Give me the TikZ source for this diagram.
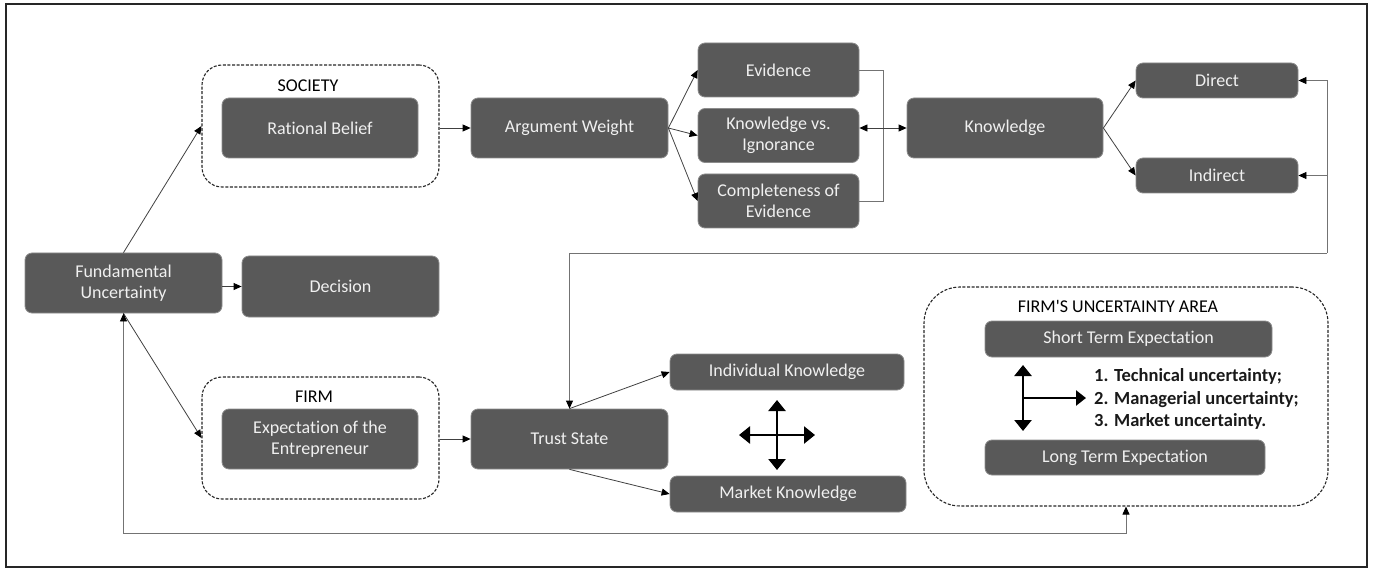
\documentclass[tikz,border=0pt]{standalone}
\usepackage{fontspec}
\setmainfont{Carlito}[Ligatures={NoCommon}]
\usetikzlibrary{arrows.meta,positioning}

\begin{document}
\begin{tikzpicture}[x=1pt,y=-1pt,
box/.style={rectangle, rounded corners=7pt, draw=black!45, line width=0.8pt, fill=black!65, text=white!94!black, font=\fontsize{18}{21}\selectfont, align=center, inner sep=0pt},
area/.style={draw=black!85, line width=1.1pt, dash pattern=on 3pt off 1.6pt, rounded corners=20pt, inner sep=0pt},
info/.style={draw=none, fill=none, inner sep=0pt, font=\fontsize{18}{21}\selectfont},
edge/.style={draw=black!75, line width=0.8pt, -{Triangle[length=8pt,width=7pt,color=black]}},
link/.style={draw=black!55, line width=0.9pt},
thickarrow/.style={line width=2.6pt, {Triangle[length=11pt,width=17pt]}-{Triangle[length=11pt,width=17pt]}}]

%% page and frame
\useasboundingbox (0,0) rectangle (1375,569);
\draw[black!85, line width=1.2pt] (6,4) rectangle (1367,567);

%% local variables
\def \wide {197pt}
\def \tall {60pt}

%% left column
\node[box, minimum width=\wide, minimum height=\tall] (FU) at (123.5,283) {Fundamental\\Uncertainty};
\node[box, minimum width=\wide, minimum height=61pt] (Dec) at (340.5,286.5) {Decision};

%% society and firm groups
\node[area, minimum width=237pt, minimum height=122pt] (Soc) at (320.5,126) {};
\node[info] (SocL) at (308,86) {SOCIETY};
\node[box, minimum width=196pt, minimum height=\tall] (RB) at (320,128) {Rational Belief};

\node[area, minimum width=237pt, minimum height=122pt] (Firm) at (320.5,438) {};
\node[info] (FirmL) at (314,397) {FIRM};
\node[box, minimum width=196pt, minimum height=\tall] (EE) at (320,439) {Expectation of the\\Entrepreneur};

%% upper chain
\node[box, minimum width=\wide, minimum height=\tall] (AW) at (569.5,128) {Argument Weight};
\node[box, minimum width=161pt, minimum height=54pt] (Ev) at (778.5,70) {Evidence};
\node[box, minimum width=161pt, minimum height=54pt] (KI) at (778.5,135.5) {Knowledge vs.\\Ignorance};
\node[box, minimum width=161pt, minimum height=54pt] (CE) at (778.5,201) {Completeness of\\Evidence};
\node[box, minimum width=196pt, minimum height=\tall] (Kn) at (1005,128) {Knowledge};
\node[box, minimum width=162pt, minimum height=35pt] (Di) at (1217,80.5) {Direct};
\node[box, minimum width=162pt, minimum height=35pt] (In) at (1217,175.5) {Indirect};

%% lower chain
\node[box, minimum width=\wide, minimum height=\tall] (TS) at (569.5,439) {Trust State};
\node[box, minimum width=234pt, minimum height=36pt] (IK) at (787,372) {Individual Knowledge};
\node[box, minimum width=236pt, minimum height=36pt] (MK) at (788,494) {Market Knowledge};

%% firm's uncertainty area
\node[area, rounded corners=36pt, minimum width=404pt, minimum height=219pt] (FUA) at (1126,396.5) {};
\node[info] (FUAL) at (1118,306) {FIRM\textquotesingle S UNCERTAINTY AREA};
\node[box, minimum width=287pt, minimum height=36pt] (ST) at (1128.5,339) {Short Term Expectation};
\node[box, minimum width=280pt, minimum height=35pt] (LT) at (1125,457.5) {Long Term Expectation};
\node[info, anchor=west, align=left, text=black!90, font=\fontsize{18.5}{22.5}\selectfont\bfseries] (List) at (1094,399)
  {1. Technical uncertainty;\\2. Managerial uncertainty;\\3. Market uncertainty.};

%% helper points
\coordinate (Bot) at (0,533);
\coordinate (Br) at (883,128);
\coordinate (Rt) at (1327,253);
\coordinate (Cross) at (777,435);
\coordinate (Tee) at (1023,398);

%% connectors
\draw[edge] (FU.north) -- (Soc.west);
\draw[edge] (FU.east |- Dec.west) -- (Dec.west);
\draw[edge] (FU.south) -- (Firm.west);
\draw[edge, {Triangle[length=8pt,width=7pt,color=black]}-{Triangle[length=8pt,width=7pt,color=black]}, draw=black!55] (FU.south) -- (FU.south |- Bot) -| (FUA.south);

\draw[edge] (Soc.east |- AW.west) -- (AW.west);
\foreach \t in {Ev,KI,CE}
      \draw[edge] (AW.east) -- (\t.west);
\draw[link] (Ev.east) -| (Br) |- (CE.east);
\draw[edge, {Triangle[length=8pt,width=7pt,color=black]}-{Triangle[length=8pt,width=7pt,color=black]}] (KI.east |- Kn.west) -- (Kn.west);
\foreach \t in {Di,In}
      \draw[edge] (Kn.east) -- (\t.west);

\draw[edge, draw=black!55] (Rt) |- (Di.east);
\draw[edge, draw=black!55] (Rt |- In.east) -- (In.east);
\draw[edge, draw=black!55] (Rt) -| (TS.north);

\draw[edge] (Firm.east |- TS.west) -- (TS.west);
\draw[edge] (TS.north) -- (IK.west);
\draw[edge] (TS.south) -- (MK.west);

%% thick arrows
\draw[thickarrow] (Cross) ++(-38,0) -- ++(76,0);
\draw[thickarrow] (Cross) ++(0,-35) -- ++(0,70);
\draw[thickarrow] (Tee |- 0,365) -- (Tee |- 0,431);
\draw[line width=2.6pt, -{Triangle[length=10pt,width=15pt]}] (Tee) -- (1086,398);

\end{tikzpicture}
\end{document}
